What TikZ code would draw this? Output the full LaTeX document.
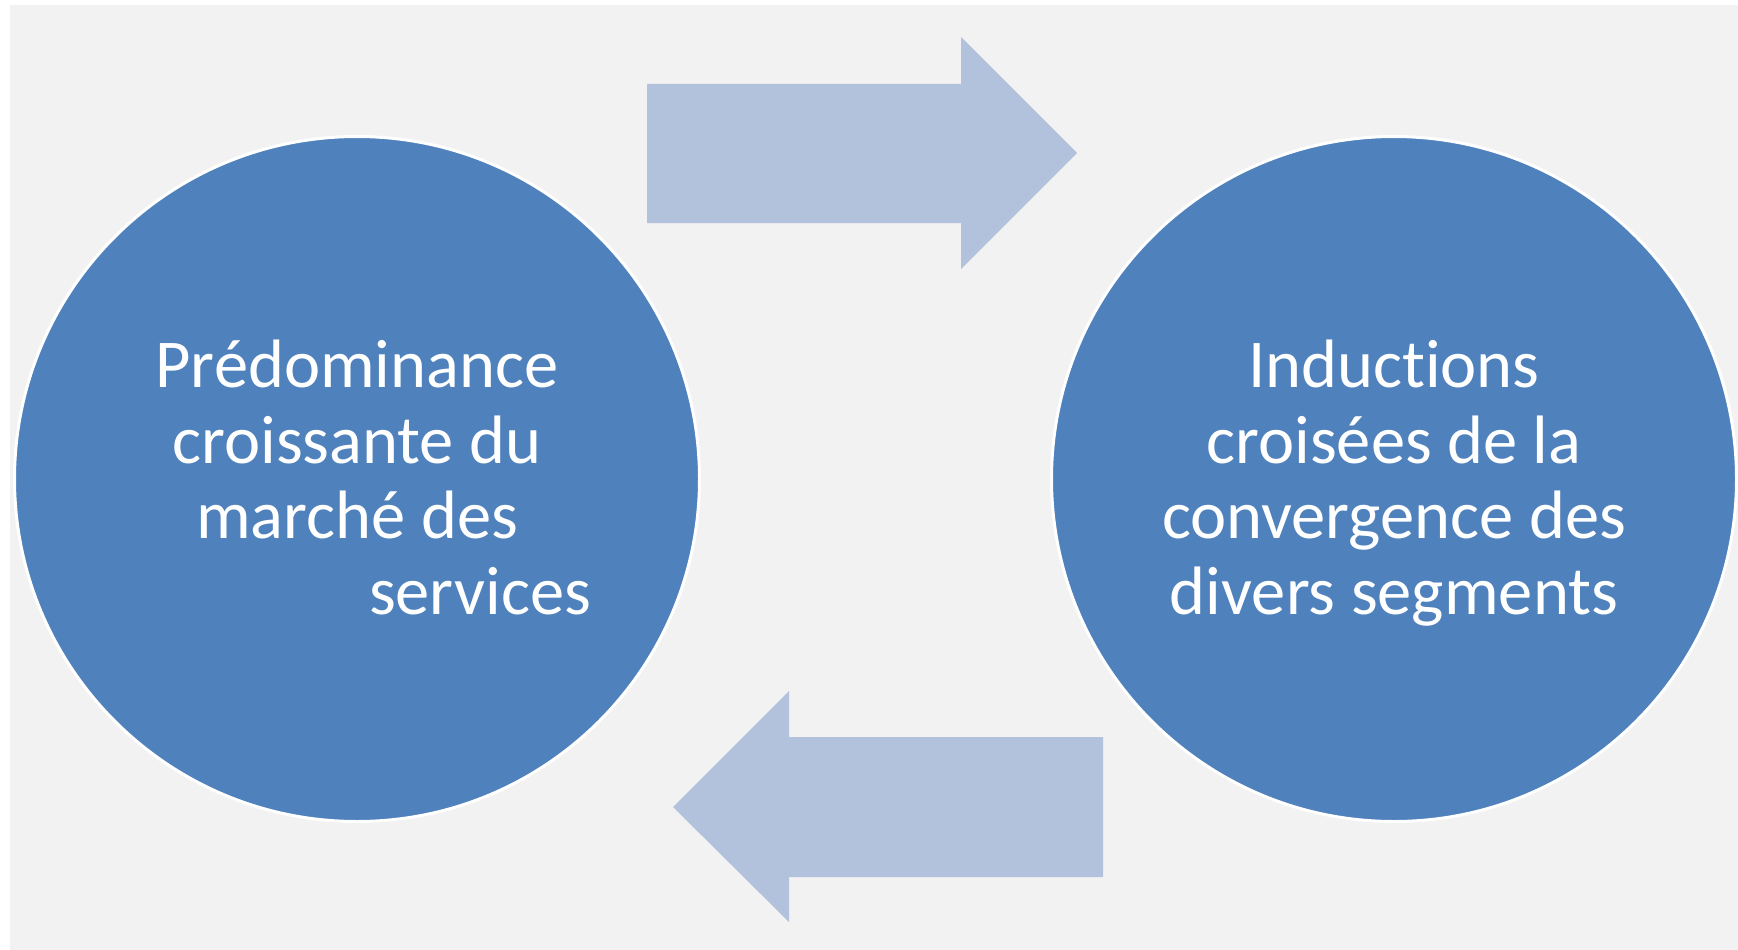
\documentclass[tikz,border=0pt]{standalone}
\usepackage{fontspec}
\setmainfont{Carlito}[Ligatures=NoCommon]
\usepackage{tikz}
\usetikzlibrary{positioning}

\definecolor{bleu}{HTML}{4F81BD}
\definecolor{bleuclair}{HTML}{B2C1DC}
\definecolor{fond}{HTML}{F2F2F2}

\newcommand{\haut}{\rule{0pt}{0.92em}}
\newcommand{\bas}{\rule[-0.28em]{0pt}{0pt}}

\begin{document}
\begin{tikzpicture}[x=1pt, y=-1pt,
bulle/.style={circle, fill=bleu, draw=white, line width=3pt, minimum size=685pt,
  inner sep=0pt, text=white, align=center, font=\fontsize{68.5}{75.7}\selectfont},
fleche/.style={fill=bleuclair}]
        % fond
        \fill[white] (0,0) rectangle (1738,950);
        \fill[fond] (10,5) rectangle (1738,950);
        \useasboundingbox (0,0) rectangle (1738,950);
        % cercles
        \node [bulle] (pred) at (357,479) {\haut Prédominance\\croissante du\\marché des\\\hspace*{246pt}services\bas};
        \node [bulle] (ind) at (1394,479) {\haut Inductions\\croisées de la\\convergence des\\divers segments\bas};
        % fleches
        \fill [fleche] (647,84) -- (961,84) -- (961,37) -- (1077,153) -- (961,269) -- (961,223) -- (647,223) -- cycle;
        \fill [fleche] (1103,737) -- (789,737) -- (789,691) -- (673,807) -- (789,922) -- (789,877) -- (1103,877) -- cycle;
    \end{tikzpicture}
\end{document}
